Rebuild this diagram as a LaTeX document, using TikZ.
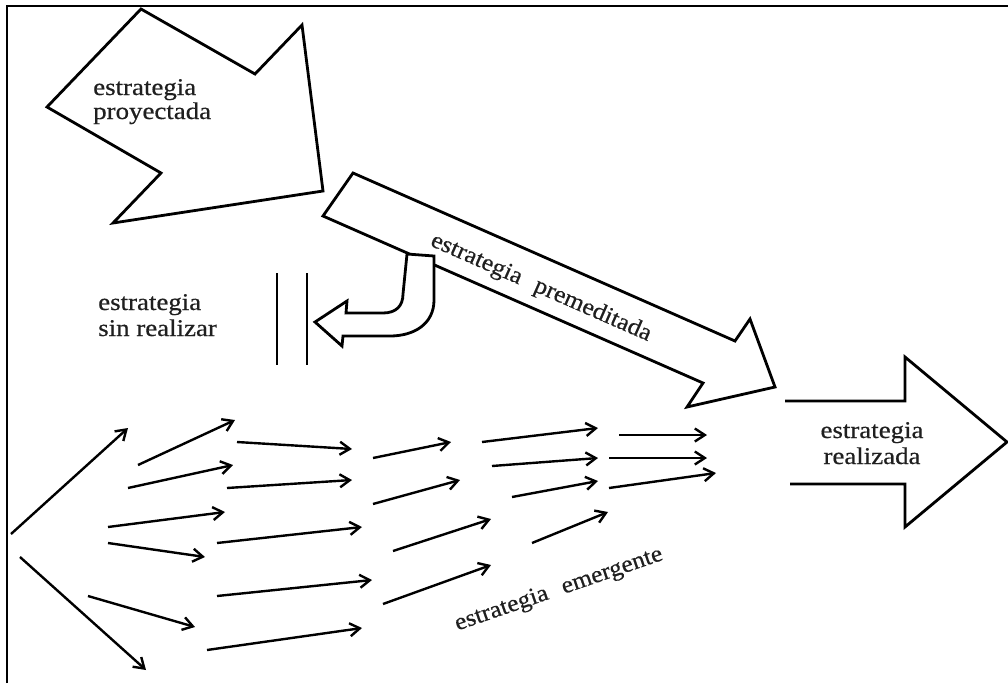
\documentclass[tikz,border=0pt]{standalone}
\usepackage{fontspec}
\setmainfont{Liberation Serif}
\newfontfamily\lblfont{Liberation Serif}[FakeBold=0.5]
\usetikzlibrary{arrows.meta}
\begin{document}
\begin{tikzpicture}[x=1pt,y=-1pt,
  outline/.style={draw=black, line width=2.8pt, line join=miter, fill=white},
  flow/.style={draw=black, line width=2.4pt,
    -{Straight Barb[length=10pt,width=13pt,line width=2.4pt]}},
  lbl/.style={text=black!88, font=\lblfont\fontsize{24}{24}\selectfont, inner sep=0pt},
  flat/.style={lbl, xscale=1.12},
  slant/.style={lbl, rotate=#1, xscale=1.06}]
\useasboundingbox (0,0) rectangle (1008,683);

% frame
\draw[line width=2.6pt] (7,683) -- (7,6) -- (1008,6);

% projected strategy (large arrow)
\draw[outline] (47,107) -- (141,9) -- (255,74) -- (302,25) -- (323,191)
  -- (113,223) -- (161,173) -- cycle;
\node[flat, anchor=base west] (proj1) at (93,95) {estrategia};
\node[flat, anchor=base west] (proj2) at (93,119) {proyectada};

% deliberate strategy
\draw[outline] (353,173) -- (735,341) -- (750,319) -- (775,387) -- (687,407)
  -- (703,383) -- (323,216) -- cycle;
\node[slant=-23.7] (prem) at (541,288) {estrategia\hspace{0.6em}premeditada};

% unrealized strategy (bent arrow and bars)
\draw[outline] (407,254) -- (434,256) -- (434,300)
  .. controls (434,324) and (414,336) .. (390,336) -- (343,336) -- (342,346)
  -- (315,322) -- (347,301) -- (346,313) -- (383,313)
  .. controls (396,313) and (403,306) .. (403,294) -- cycle;
\draw[line width=2.6pt] (277,273) -- (277,365);
\draw[line width=2.6pt] (307,273) -- (307,365);
\node[flat, anchor=base west] (sin1) at (98,310) {estrategia};
\node[flat, anchor=base west] (sin2) at (98,336) {sin realizar};

% realized strategy (open-tailed arrow)
\draw[outline, fill=none] (785,401) -- (905,401) -- (905,357) -- (1007,442)
  -- (905,527) -- (905,484) -- (790,484);
\node[flat, anchor=base] (real1) at (872,438) {estrategia};
\node[flat, anchor=base] (real2) at (872,464) {realizada};

% emergent strategy (field of small arrows)
\foreach \i/\xa/\ya/\xb/\yb in {
  1/11/534/128/428, 2/20/557/146/670,
  3/138/465/235/420, 4/128/488/233/465,
  5/108/527/225/512, 6/108/543/205/557,
  7/88/596/195/627,
  8/237/442/352/449, 9/227/488/352/480,
  10/217/543/362/527, 11/217/596/372/580,
  12/207/650/362/628,
  13/373/458/451/442, 14/373/504/460/480,
  15/393/551/491/519, 16/383/604/491/565,
  17/482/442/598/428, 18/492/466/598/458,
  19/512/497/598/481, 20/532/543/608/512,
  21/619/435/707/435, 22/609/458/707/458,
  23/609/488/716/473} {
  \coordinate (s\i) at (\xa,\ya);
  \coordinate (t\i) at (\xb,\yb);
  \draw[flow] (s\i) -- (t\i);
}
\node[slant=19] (emer) at (559,590) {estrategia\hspace{0.6em}emergente};
\end{tikzpicture}
\end{document}
